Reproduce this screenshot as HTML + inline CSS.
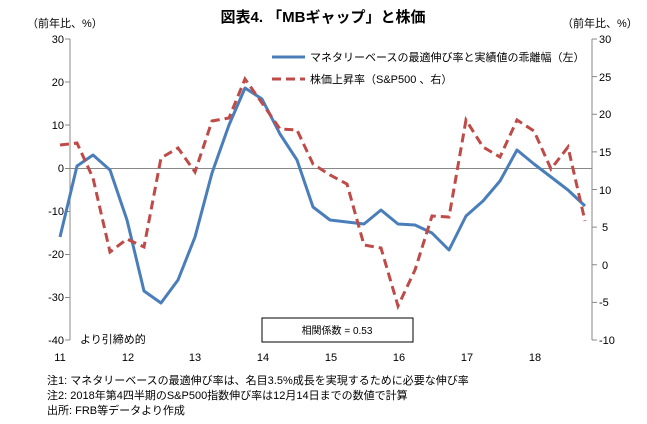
<!DOCTYPE html>
<html><head><meta charset="utf-8"><style>
body{margin:0;background:#fff;}
svg text{font-family:"Liberation Sans","Noto Sans CJK JP",sans-serif;}
</style></head><body>
<svg width="647" height="419" viewBox="0 0 647 419" xmlns="http://www.w3.org/2000/svg">
<text x="323" y="22" font-size="15" font-weight="bold" text-anchor="middle">図表4. 「MBギャップ」と株価</text>
<text x="27" y="27" font-size="11">（前年比、%）</text>
<text x="562" y="27" font-size="11">（前年比、%）</text>
<g stroke="#888" stroke-width="1" fill="none">
<line x1="70" y1="39" x2="70" y2="340"/>
<line x1="592" y1="39" x2="592" y2="340"/>
<line x1="70" y1="168.5" x2="592" y2="168.5"/>
<path d="M65 39H70M65 82H70M65 125H70M65 168.5H70M65 211.5H70M65 254.5H70M65 297.5H70M65 340H70"/>
<path d="M592 39H597M592 76.6H597M592 114.3H597M592 151.9H597M592 189.5H597M592 227.1H597M592 264.7H597M592 302.4H597M592 340H597"/>
</g>
<g font-size="11" text-anchor="end">
<text x="64" y="43">30</text><text x="64" y="86">20</text><text x="64" y="129">10</text><text x="64" y="172">0</text><text x="64" y="215">-10</text><text x="64" y="258">-20</text><text x="64" y="301">-30</text><text x="64" y="344">-40</text>
</g>
<g font-size="11">
<text x="599" y="43">30</text><text x="599" y="81">25</text><text x="599" y="118">20</text><text x="599" y="156">15</text><text x="599" y="194">10</text><text x="602" y="231">5</text><text x="602" y="269">0</text><text x="599" y="306">-5</text><text x="599" y="344">-10</text>
</g>
<g font-size="11" text-anchor="middle">
<text x="60" y="361">11</text><text x="128" y="361">12</text><text x="195" y="361">13</text><text x="263" y="361">14</text><text x="331" y="361">15</text><text x="399" y="361">16</text><text x="467" y="361">17</text><text x="535" y="361">18</text>
</g>
<polyline fill="none" stroke="#4a7ebb" stroke-width="3" stroke-linejoin="round" points="60,237 77,166 93,155 110,170 127,220 144,291 161,303 178,280 195,237 212,173 229,125 245,88 262,99 280,134 297,160 313,207 330,220 347,222 364,224 381,210 398,224 415,225 432,233 449,250 466,216 483,201 500,181 517,150 534,164 551,177 568,190 585,206"/>
<polyline fill="none" stroke="#be4b48" stroke-width="3" stroke-dasharray="9,5" points="60,145 77,143 93,178 110,252 127,239 144,247 161,158 178,148 195,172 212,121 229,118 245,79 262,103 280,129 297,130 313,164 330,175 347,184 364,245 381,248 398,306 415,270 432,216 449,217 466,120 483,147 500,157 517,120 534,131 551,169 568,147 585,221"/>
<line x1="272" y1="57" x2="305" y2="57" stroke="#4a7ebb" stroke-width="3"/>
<text x="310" y="61" font-size="11">マネタリーベースの最適伸び率と実績値の乖離幅（左）</text>
<line x1="272" y1="79" x2="305" y2="79" stroke="#be4b48" stroke-width="3" stroke-dasharray="9,5"/>
<text x="310" y="83" font-size="11">株価上昇率（S&amp;P500 、右）</text>
<rect x="262" y="318" width="151" height="24" fill="#fff" stroke="#000" stroke-width="1"/>
<text x="337" y="334" font-size="10" text-anchor="middle">相関係数 = 0.53</text>
<text x="80" y="343" font-size="11">より引締め的</text>
<text x="47" y="384" font-size="11">注1: マネタリーベースの最適伸び率は、名目3.5%成長を実現するために必要な伸び率</text>
<text x="47" y="399" font-size="11">注2: 2018年第4四半期のS&amp;P500指数伸び率は12月14日までの数値で計算</text>
<text x="47" y="414" font-size="11">出所: FRB等データより作成</text>
</svg>
</body></html>
